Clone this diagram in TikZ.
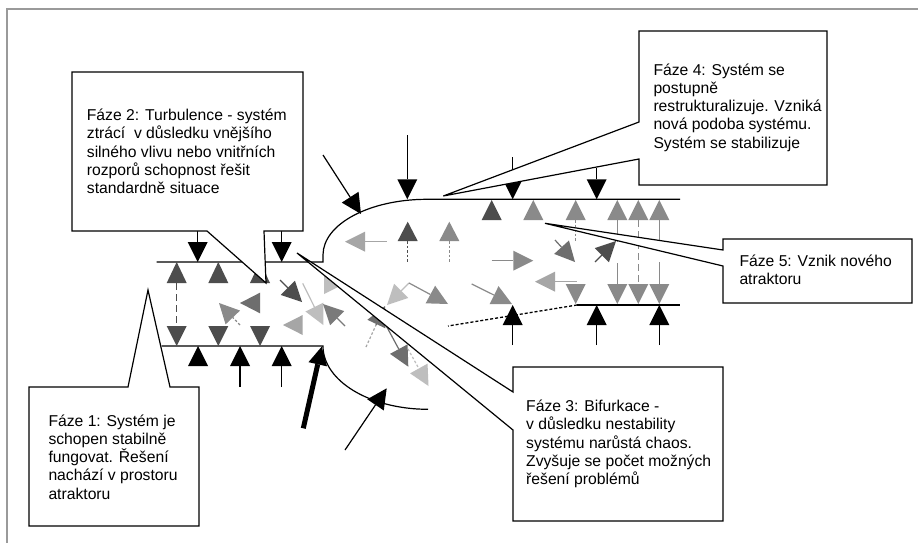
\documentclass[tikz,border=0pt]{standalone}
\usepackage{fontspec}
\setmainfont{Liberation Sans}
\usetikzlibrary{arrows.meta}
\definecolor{gA}{HTML}{4D4D4D}
\definecolor{gB}{HTML}{6E6E6E}
\definecolor{gBC}{HTML}{7A7A7A}
\definecolor{gC}{HTML}{8A8A8A}
\definecolor{gD}{HTML}{A6A6A6}
\definecolor{gE}{HTML}{BEBEBE}
\definecolor{framegray}{HTML}{9A9A9A}
\tikzset{
  mainline/.style={line width=1.2pt, black},
  blk/.style={line width=1.2pt, black, -{Triangle[length=20pt,width=20pt,line width=0pt]}},
  ga/.style={line width=1.2pt, color=#1, -{Triangle[length=20pt,width=20pt,line width=0pt]}},
  dotl/.style={dash pattern=on 2.5pt off 2pt},
  dashl/.style={dash pattern=on 7pt off 4pt},
  callout/.style={draw=black, line width=1.2pt, fill=white, line join=miter},
  lbl/.style={anchor=north west, inner sep=0pt, align=left, font=\fontsize{15.7}{18.1}\selectfont}
}
\begin{document}
\begin{tikzpicture}[x=1pt,y=-1pt]
\useasboundingbox (0,0) rectangle (918,543);
\fill[white] (0,0) rectangle (918,543);
\draw[framegray, line width=2.5pt] (7,9) rectangle (940,565);

% ---- attractor boundaries ----
\draw[mainline] (156.7,262) -- (323,262) -- (323,255) .. controls (323,224) and (369.6,199.3) .. (427,199.3) -- (680,199.3);
\draw[mainline] (161.7,346) -- (323,346) .. controls (323,381) and (370,409.3) .. (428,409.3);
\draw[mainline] (576.7,305) -- (680,305);
\draw[line width=1.3pt, dash pattern=on 3pt off 2pt] (577,305) -- (448,326);

% ---- left attractor (phase 1) ----
\foreach \x in {176.7,218.3,260}{
  \fill[gA] (\x-10,283) -- (\x,262) -- (\x+10,283) -- cycle;
  \fill[gA] (\x-10,326) -- (\x,346) -- (\x+10,326) -- cycle;
}
\draw[gA, line width=1.5pt, dashl] (176.7,283) -- (176.7,326);
\fill[gB] (260,292.7) -- (240,303) -- (260,313.3) -- cycle;
\draw[ga=gC, dotl] (240,325) -- (219,303);

% ---- chaos (phase 3) ----
\draw[ga=gA] (280,280) -- (302,302);
\draw[ga=gE] (302.7,283.3) -- (323.3,325);
\draw[ga=gBC] (345,326) -- (323,304);
\fill[gE] (324,275) -- (344,284) -- (324,294) -- cycle;
\fill[gD] (302.7,315) -- (283,325) -- (302.7,335) -- cycle;
\draw[ga=gE] (409,283) -- (387,305);
\draw[ga=gC] (409,283) -- (448,304);
\draw[gD, line width=1.2pt, dotl] (366,347) -- (376,325);
\draw[ga=gB] (376,325) -- (385,306);
\draw[ga=gB] (386.7,326.7) -- (408.3,366.7);
\draw[ga=gE, dotl] (408,349) -- (428.5,386);

% ---- new attractor (phases 4, 5) ----
\draw[ga=gD] (386.7,241.7) -- (345,241.7);
\fill[gA] (397.7,241) -- (407.7,221.7) -- (417.7,241) -- cycle;
\fill[gC] (439.3,241) -- (449.3,221.7) -- (459.3,241) -- cycle;
\draw[gA, line width=1.2pt, dotl] (407.7,241) -- (407.7,263.3);
\draw[gC, line width=1.2pt, dotl] (449.3,241) -- (449.3,263.3);
\draw[ga=gC] (491.7,260.7) -- (533.3,260.7);
\draw[ga=gD] (576.7,281.7) -- (535,281.7);
\draw[ga=gC] (471.7,284) -- (512,304);
\fill[gA] (481.7,220) -- (491.7,200) -- (501.7,220) -- cycle;
\foreach \x in {533.3,575.7,617.3,638.3,659.3}{
  \fill[gC] (\x-10,220) -- (\x,200) -- (\x+10,220) -- cycle;
}
\foreach \x in {575.7,617.3,638.3,659.3}{
  \fill[gC] (\x-10,284) -- (\x,304) -- (\x+10,284) -- cycle;
}
\draw[gC, line width=1.2pt, dotl] (575.7,220) -- (575.7,241.7);
\draw[ga=gB] (555,240) -- (575,262);
\draw[ga=gA] (595,262) -- (616,241);
\draw[gC, line width=1.2pt] (617.3,220) -- (617.3,242);
\draw[gC, line width=1.2pt] (617.3,263) -- (617.3,285);
\draw[gC, line width=1.2pt, dashl] (638.3,220) -- (638.3,284);
\draw[gC, line width=1.2pt] (659.3,220) -- (659.3,241);
\draw[gC, line width=1.2pt] (659.3,262) -- (659.3,285);

% ---- external black arrows ----
\draw[blk] (197.7,231) -- (197.7,262);
\draw[blk] (281.7,231) -- (281.7,262);
\draw[blk] (323,155) -- (361,214);
\draw[blk] (407.3,135) -- (407.3,199.3);
\draw[blk] (512.7,157) -- (512.7,199.3);
\draw[blk] (596.7,168) -- (596.7,199.3);
\fill[black] (188,366) -- (198,346) -- (208,366) -- cycle;
\draw[blk] (240,387) -- (240,346);
\draw[blk] (281.7,387) -- (281.7,346);
\draw[line width=5pt, black, -{Triangle[length=18pt,width=19pt,line width=0pt]}] (303.3,428.3) -- (321.7,346.7);
\draw[blk] (345,450) -- (386.7,388.3);
\draw[blk] (512.7,345) -- (512.7,305);
\draw[blk] (596.7,345) -- (596.7,305);
\draw[blk] (659.3,345) -- (659.3,305);

% ---- callouts ----
\draw[callout] (72,72) -- (303,72) -- (303,231) -- (264,231) -- (266,283) -- (207,231) -- (72,231) -- cycle;
\draw[callout] (29,387) -- (128,387) -- (148,290) -- (170,387) -- (199,387) -- (199,526) -- (29,526) -- cycle;
\draw[callout] (513,367) -- (723,367) -- (723,521) -- (513,521) -- (513,430) -- (297,253) -- (513,392) -- cycle;
\draw[callout] (639,31) -- (827,31) -- (827,185) -- (639,185) -- (639,159) -- (443.3,196) -- (639,122) -- cycle;
\draw[callout] (723,239) -- (912,239) -- (912,303) -- (723,303) -- (723,266) -- (545,223.3) -- (723,250) -- cycle;

\node[lbl] (f2) at (86.7,108) {\strut Fáze 2: Turbulence - systém\\ztrácí\ \ v důsledku vnějšího\\silného vlivu nebo vnitřních\\rozporů schopnost řešit\\standardně situace};
\node[lbl] (f1) at (48.3,413.8) {\strut Fáze 1: Systém je\\schopen stabilně\\fungovat. Řešení\\nachází v prostoru\\atraktoru};
\node[lbl] (f3) at (526,399) {\strut Fáze 3: Bifurkace -\\v důsledku nestability\\systému narůstá chaos.\\Zvyšuje se počet možných\\řešení problémů};
\node[lbl] (f4) at (653.3,62.8) {\strut Fáze 4: Systém se\\postupně\\restrukturalizuje. Vzniká\\nová podoba systému.\\Systém se stabilizuje};
\node[lbl] (f5) at (739.3,254) {\strut Fáze 5: Vznik nového\\atraktoru};
\end{tikzpicture}
\end{document}
